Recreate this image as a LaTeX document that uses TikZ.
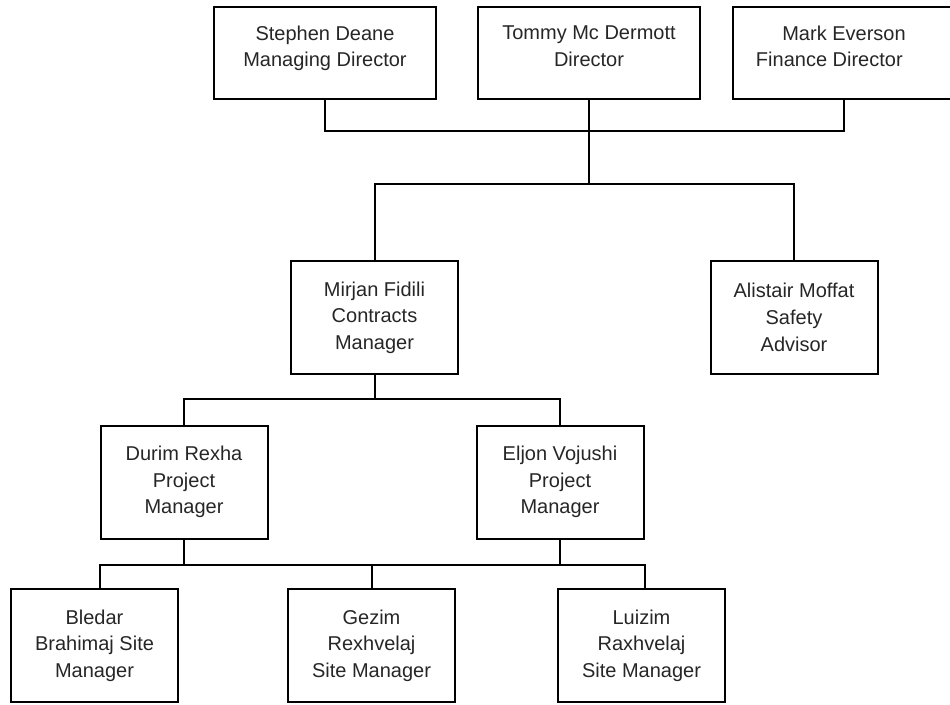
\documentclass[tikz,border=0pt]{standalone}
\usepackage{fontspec}
\setmainfont{Liberation Sans}
\usepackage{tikz}
\usetikzlibrary{calc}

\begin{document}
\begin{tikzpicture}[x=0.75pt, y=-0.75pt]
		\tikzstyle{person}=[rectangle, draw, line width=1.5pt, align=center, inner sep=2pt, font=\fontsize{15}{20}\selectfont, text=black!85]
		\tikzstyle{director}=[person, minimum width=166.5pt, minimum height=69pt]
		\tikzstyle{manager}=[person, minimum width=125.25pt, minimum height=84.75pt]
		\tikzstyle{link}=[line width=1.5pt]

		\useasboundingbox (0,0) rectangle (950,704);

		\node[director] (stephen) at (325,53) {Stephen Deane\\Managing Director\\[-10pt]\mbox{}};
		\node[director] (tommy) at (589,53) {Tommy Mc Dermott\\Director\\[-10pt]\mbox{}};
		\node[director] (mark) at (844,53) {Mark Everson\\Finance Director\hspace{22pt}\mbox{}\\[-10pt]\mbox{}};

		\node[manager] (mirjan) at (374.5,317.5) {Mirjan Fidili\\Contracts\\Manager};
		\node[manager] (alistair) at (794,317.5) {Alistair Moffat\\Safety\\Advisor};

		\node[manager] (durim) at (184,482) {Durim Rexha\\Project\\Manager};
		\node[manager] (eljon) at (560,482) {Eljon Vojushi\\Project\\Manager};

		\node[manager] (bledar) at (94.5,645.5) {Bledar\\Brahimaj Site\\Manager};
		\node[manager] (gezim) at (371.5,645.5) {Gezim\\Rexhvelaj\\Site Manager};
		\node[manager] (luizim) at (641.5,645.5) {Luizim\\Raxhvelaj\\Site Manager};

		\coordinate (boardbus) at (589,131);
		\coordinate (officebus) at (589,184);
		\coordinate (projectbus) at (374.5,399);
		\coordinate (sitebus) at (375,565);

		\draw[link] (stephen.south) |- (boardbus) -| (mark.south);
		\draw[link] (tommy.south) -- (officebus);
		\draw[link] (mirjan.north) |- (officebus) -| (alistair.north);

		\draw[link] (mirjan.south) -- (projectbus);
		\draw[link] (durim.north) |- (projectbus) -| (eljon.north);

		\draw[link] (durim.south) -- (durim.south |- sitebus);
		\draw[link] (eljon.south) -- (eljon.south |- sitebus);
		\draw[link] (durim.west |- bledar.north) |- (sitebus) -| (eljon.east |- luizim.north);
		\draw[link] (gezim.north) -- (gezim.north |- sitebus);

	\end{tikzpicture}
\end{document}
